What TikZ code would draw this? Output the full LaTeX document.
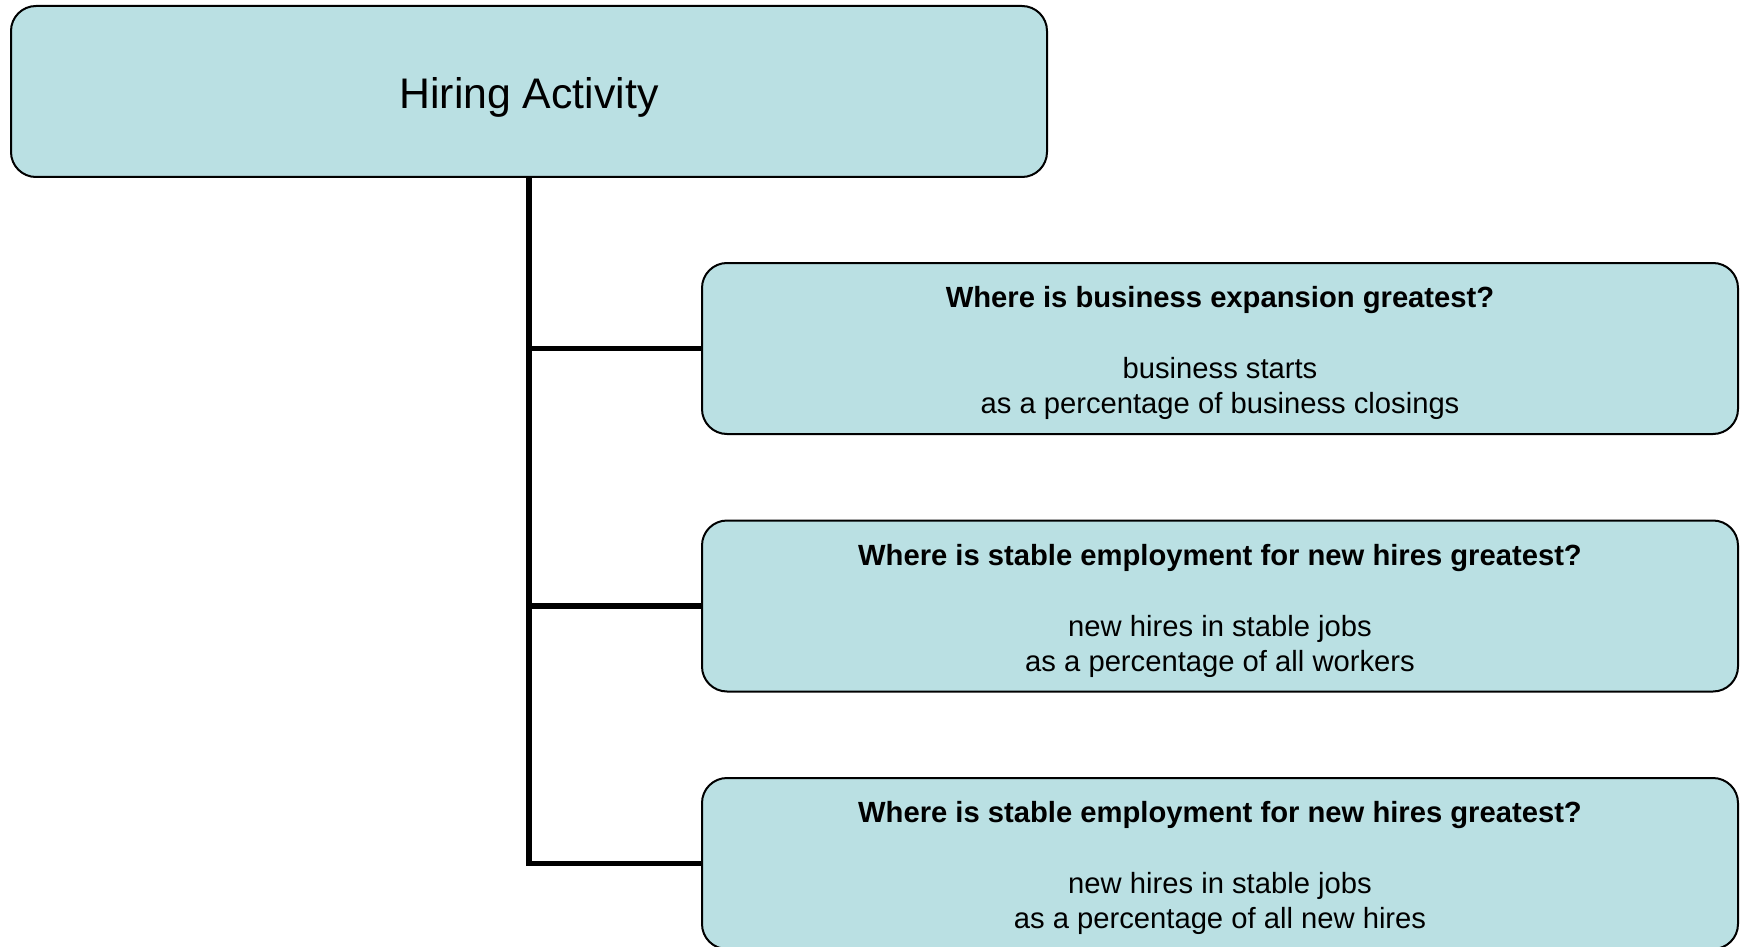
\documentclass[tikz,border=0pt]{standalone}
\usepackage{fontspec}
\setmainfont{Liberation Sans}
\usetikzlibrary{positioning}
\definecolor{boxfill}{RGB}{186,224,227}
\tikzset{
  topbox/.style={draw, line width=1pt, fill=boxfill, rounded corners=12.5pt,
    minimum width=518pt, minimum height=85.5pt, inner sep=0pt,
    text height=17.4pt, text depth=0pt,
    font=\fontsize{21.4}{25}\selectfont},
  measurebox/.style={draw, line width=1pt, fill=boxfill, rounded corners=12.5pt,
    minimum width=518pt, minimum height=85.5pt, inner sep=0pt, align=center,
    text height=65.4pt, text depth=0pt,
    font=\fontsize{14.6}{17.7}\selectfont},
  branch/.style={line width=2.75pt}
}
\begin{document}
\begin{tikzpicture}[x=0.5pt, y=-0.5pt]
        \useasboundingbox (0,0) rectangle (1741,947);

        % Boxes
        \node[topbox] (hiring) at (529,91.5) {Hiring Activity};
        \node[measurebox] (expansion) at (1220,348.5)
            {\textbf{Where is business expansion greatest?}\\[17.6pt]
             business starts\\ as a percentage of business closings};
        \node[measurebox] (stable) at (1220,606)
            {\textbf{Where is stable employment for new hires greatest?}\\[17.6pt]
             new hires in stable jobs\\ as a percentage of all workers};
        \node[measurebox] (newhires) at (1220,863.5)
            {\textbf{Where is stable employment for new hires greatest?}\\[17.6pt]
             new hires in stable jobs\\ as a percentage of all new hires};

        % Tree lines
        \coordinate (trunkend) at (hiring.south |- newhires.west);
        \draw[branch] (hiring.south) -- (trunkend) -- (newhires.west);
        \draw[branch] (hiring.south |- expansion.west) -- (expansion.west);
        \draw[branch] (hiring.south |- stable.west) -- (stable.west);
    \end{tikzpicture}
\end{document}
